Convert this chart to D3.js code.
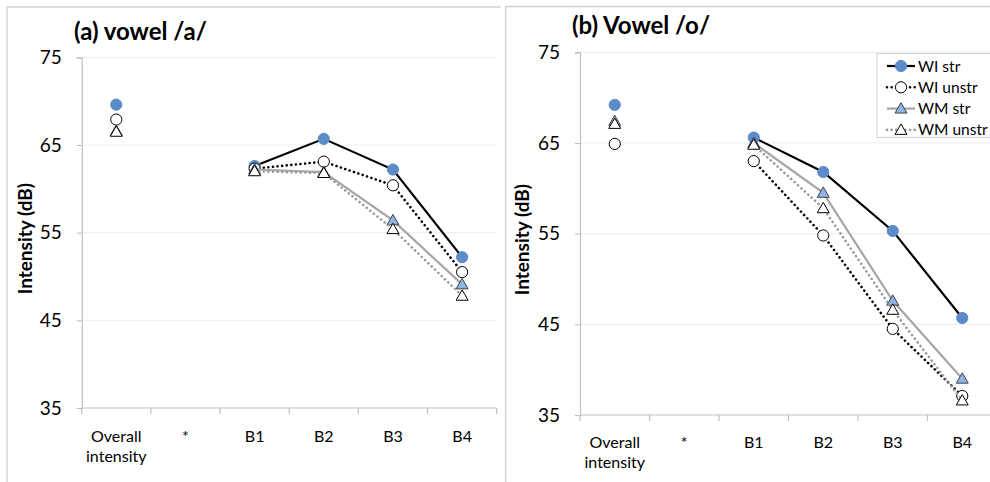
<!DOCTYPE html>
<html><head><meta charset="utf-8">
<script src="https://cdn.jsdelivr.net/npm/d3@7"></script>
<style>
html,body{margin:0;padding:0;background:#fff;}
svg{display:block;font-family:Lato,"Open Sans",sans-serif;}
</style></head>
<body><svg id="c" width="990" height="482"></svg>
<script>
// ---- data ----
const categories = ["Overall intensity", "*", "B1", "B2", "B3", "B4"];
const yTicks = [35, 45, 55, 65, 75];
const seriesNames = ["WI str", "WI unstr", "WM str", "WM unstr"];
const panelTitles = ["(a) vowel /a/", "(b) Vowel /o/"];
const yTitle = "Intensity (dB)";
// vowel /a/
const aWIstr   = [69.6, null, 62.6, 65.7, 62.2, 52.2];
const aWIunstr = [67.9, null, 62.3, 63.1, 60.4, 50.5];
const aWMstr   = [66.6, null, 62.2, 61.9, 56.4, 49.1];
const aWMunstr = [66.5, null, 62.0, 61.8, 55.4, 47.8];
// vowel /o/
const oWIstr   = [69.2, null, 65.6, 61.8, 55.3, 45.7];
const oWIunstr = [64.9, null, 63.0, 54.8, 44.5, 37.1];
const oWMstr   = [67.4, null, 65.0, 59.5, 47.6, 39.0];
const oWMunstr = [67.1, null, 64.8, 57.8, 46.6, 36.6];

// ---- styles ----
const styles = [
  {line:"#000", width:2.2, dash:null, marker:"circle", fill:"#5B8BC9", stroke:"#5B8BC9"},
  {line:"#000", width:2.6, dash:"0.01,4.6", marker:"circle", fill:"#fff", stroke:"#000"},
  {line:"#A6A6A6", width:2.2, dash:null, marker:"triangle", fill:"#8DB4E2", stroke:"#404040"},
  {line:"#999999", width:2.6, dash:"0.01,4.6", marker:"triangle", fill:"#fff", stroke:"#000"}
];

const svg = d3.select("#c");

function drawMarker(g, type, x, y, st) {
  if (type === "circle") {
    g.append("circle").attr("cx", x).attr("cy", y).attr("r", 5.6)
      .attr("fill", st.fill).attr("stroke", st.stroke).attr("stroke-width", 1);
  } else {
    g.append("path").attr("d", d3.symbol(d3.symbolTriangle, 62)())
      .attr("transform", `translate(${x},${y+1})`)
      .attr("fill", st.fill).attr("stroke", st.stroke).attr("stroke-width", 1);
  }
}

function panel(cfg, data) {
  const g = svg.append("g");
  g.append("path").attr("d", cfg.frame).attr("fill", "none").attr("stroke", "#D0D0D0").attr("stroke-width", 1.3);
  const x = d3.scaleBand().domain(categories).range([cfg.x0, cfg.x1]);
  const y = d3.scaleLinear().domain([35, 75]).range([cfg.y35, cfg.y75]);
  // gridlines
  g.append("g").selectAll("line").data(yTicks.slice(1)).join("line")
    .attr("x1", cfg.x0).attr("x2", cfg.x1).attr("y1", d => y(d)).attr("y2", d => y(d))
    .attr("stroke", "#F0F0F0").attr("stroke-width", 1.2);
  // y axis
  const ya = g.append("g").attr("transform", `translate(${cfg.x0},0)`)
    .call(d3.axisLeft(y).tickValues(yTicks).tickSize(5).tickPadding(15).tickFormat(d3.format("d")));
  ya.select(".domain").attr("stroke", "#BFBFBF").attr("stroke-width", 1.2);
  ya.selectAll(".tick line").attr("stroke", "#BFBFBF");
  ya.selectAll("text").attr("font-size", 19).attr("fill", "#000").attr("font-family", "Lato, sans-serif");
  // x axis
  const xa = g.append("g").attr("transform", `translate(0,${cfg.y35})`)
    .call(d3.axisBottom(x).tickSize(0).tickFormat(""));
  xa.select(".domain").attr("stroke", "#BFBFBF").attr("stroke-width", 1.2).attr("d", `M${cfg.x0},0H${cfg.x1}`);
  const bounds = categories.map(c => x(c)).concat([cfg.x1]);
  xa.selectAll("line.bt").data(bounds).join("line").attr("class", "bt")
    .attr("x1", d => d).attr("x2", d => d).attr("y1", 0).attr("y2", 6)
    .attr("stroke", "#BFBFBF").attr("stroke-width", 1.2);
  // x labels
  categories.forEach(c => {
    const cx = x(c) + x.bandwidth() / 2;
    const words = c === "Overall intensity" ? ["Overall", "intensity"] : [c];
    words.forEach((w, i) => {
      g.append("text").attr("x", cx).attr("y", cfg.y35 + cfg.lab1 + i * 20)
        .attr("text-anchor", "middle").attr("font-size", 16).attr("fill", "#000").text(w);
    });
  });
  // title
  g.append("text").attr("x", cfg.tx).attr("y", cfg.ty).attr("font-size", 24)
    .attr("font-weight", "bold").attr("fill", "#000").text(cfg.title);
  // y title
  g.append("text").attr("transform", `translate(${cfg.ytx},${(cfg.y35 + cfg.y75) / 2 + 6}) rotate(-90)`)
    .attr("text-anchor", "middle").attr("font-size", 19).attr("font-weight", "bold").attr("fill", "#000").text(yTitle);
  // series
  const cx = i => x(categories[i]) + x.bandwidth() / 2;
  data.forEach((vals, si) => {
    const st = styles[si];
    const line = d3.line().defined(d => d != null).x((d, i) => cx(i)).y(d => y(d));
    g.append("path").attr("d", line(vals)).attr("fill", "none")
      .attr("stroke", st.line).attr("stroke-width", st.width)
      .attr("stroke-linecap", st.dash ? "round" : "butt")
      .attr("stroke-dasharray", st.dash);
    vals.forEach((v, i) => { if (v != null) drawMarker(g, st.marker, cx(i), y(v), st); });
  });
  return g;
}

panel({x0: 81.7, x1: 496.7, y35: 408, y75: 57.3, lab1: 34, tx: 74, ty: 40, ytx: 32,
  title: panelTitles[0], frame: "M7,482V7H500.5"},
  [aWIstr, aWIunstr, aWMstr, aWMunstr]);
panel({x0: 580, x1: 997, y35: 415, y75: 52.3, lab1: 33, tx: 572, ty: 34, ytx: 529,
  title: panelTitles[1], frame: "M505.7,482V6.5H990"},
  [oWIstr, oWIunstr, oWMstr, oWMunstr]);

// legend
const lg = svg.append("g");
lg.append("rect").attr("x", 877).attr("y", 53.5).attr("width", 120).attr("height", 84)
  .attr("fill", "#fff").attr("stroke", "#D0D0D0").attr("stroke-width", 1);
seriesNames.forEach((n, i) => {
  const st = styles[i];
  const yy = 66 + i * 21.3;
  lg.append("line").attr("x1", 887).attr("x2", 915).attr("y1", yy).attr("y2", yy)
    .attr("stroke", st.line).attr("stroke-width", st.width)
    .attr("stroke-linecap", st.dash ? "round" : "butt").attr("stroke-dasharray", st.dash);
  drawMarker(lg, st.marker, 901, yy, st);
  lg.append("text").attr("x", 918).attr("y", yy + 5.5).attr("font-size", 15.5).attr("fill", "#000").text(n);
});
</script>
</body></html>
